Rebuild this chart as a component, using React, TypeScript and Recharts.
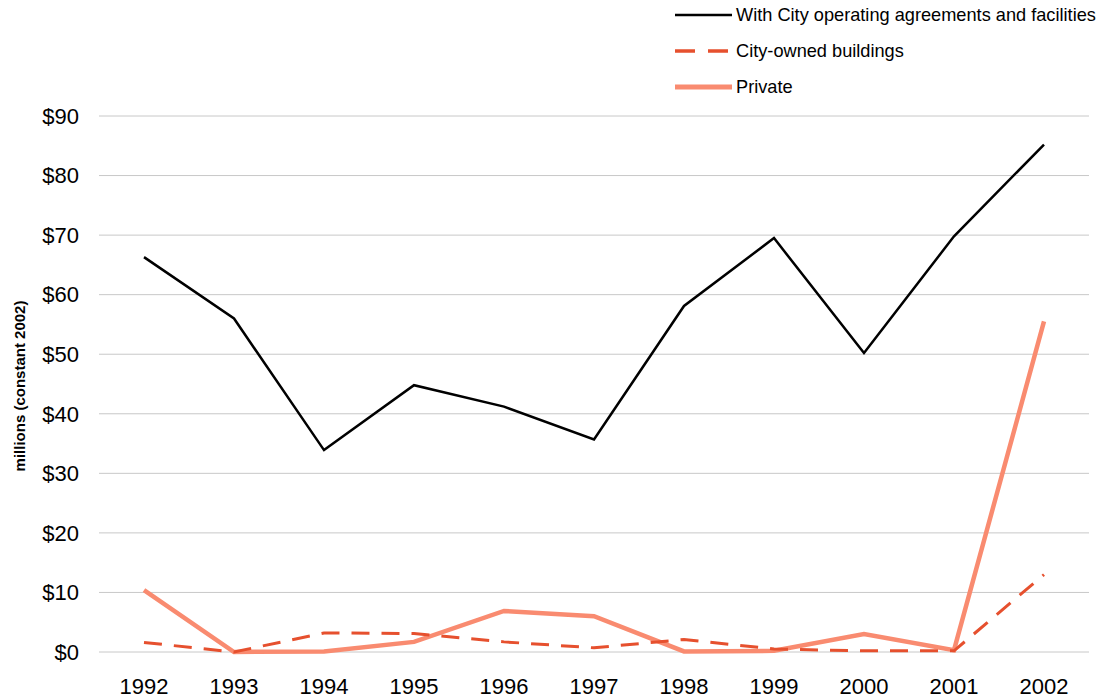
import React from 'react';
import { LineChart, Line, XAxis, YAxis, CartesianGrid, Legend } from 'recharts';

const years = ['1992', '1993', '1994', '1995', '1996', '1997', '1998', '1999', '2000', '2001', '2002'];
const withCity = [66.3, 56.0, 33.9, 44.8, 41.2, 35.7, 58.1, 69.5, 50.2, 69.8, 85.2];
const cityOwned = [1.6, 0.0, 3.2, 3.1, 1.7, 0.7, 2.1, 0.5, 0.2, 0.2, 13.0];
const privateVals = [10.4, 0.0, 0.1, 1.7, 6.9, 6.0, 0.1, 0.2, 3.0, 0.3, 55.5];
const yTicks = [0, 10, 20, 30, 40, 50, 60, 70, 80, 90];

const seriesNames = {
  withCity: 'With City operating agreements and facilities',
  cityOwned: 'City-owned buildings',
  private: 'Private',
};

const data = years.map((y, i) => ({
  year: y,
  withCity: withCity[i],
  cityOwned: cityOwned[i],
  private: privateVals[i],
}));

const FONT = 'Arial, "Liberation Sans", Helvetica, sans-serif';

const legendItems = [
  { label: seriesNames.withCity, color: '#000000', width: 2.5, dash: undefined as string | undefined },
  { label: seriesNames.cityOwned, color: '#E6502E', width: 3.5, dash: '20 13' },
  { label: seriesNames.private, color: '#F98B70', width: 5, dash: undefined as string | undefined },
];

const LegendContent = () => (
  <svg width={444} height={100} style={{ display: 'block', overflow: 'visible' }}>
    {legendItems.map((it, i) => {
      const y = 7 + i * 36;
      return (
        <g key={it.label}>
          <line x1={17} x2={74} y1={y} y2={y} stroke={it.color} strokeWidth={it.width} strokeDasharray={it.dash} />
          <text x={78} y={y} dy="0.35em" fontSize={18.2} fontFamily={FONT} fill="#000">
            {it.label}
          </text>
        </g>
      );
    })}
  </svg>
);

const YLabel = (props: any) => {
  const vb = props.viewBox || {};
  const cy = (vb.y || 0) + (vb.height || 0) / 2 + 2;
  const cx = 11;
  return (
    <text
      x={cx}
      y={cy}
      transform={`rotate(-90, ${cx}, ${cy})`}
      textAnchor="middle"
      dominantBaseline="central"
      fontSize={15}
      fontWeight="bold"
      fontFamily={FONT}
      fill="#000"
    >
      millions (constant 2002)
    </text>
  );
};

export default function App() {
  return (
    <div style={{ width: 1096, height: 692, position: 'relative', fontFamily: FONT }}>
      <LineChart width={1096} height={692} data={data} margin={{ top: 108, right: 15, bottom: 0, left: 0 }}>
        <CartesianGrid vertical={false} stroke="#C8C8C8" strokeWidth={1} />
        <XAxis
          dataKey="year"
          axisLine={false}
          tickLine={false}
          padding={{ left: 45, right: 45 }}
          height={48}
          tickMargin={20}
          tick={{ fontSize: 22, fill: '#000', fontFamily: FONT }}
          interval={0}
        />
        <YAxis
          domain={[0, 90]}
          ticks={yTicks}
          width={91}
          axisLine={false}
          tickLine={false}
          tickMargin={14}
          tickFormatter={(v: number) => `$${v}`}
          tick={{ fontSize: 22, fill: '#000', fontFamily: FONT }}
          label={{ content: YLabel }}
        />
        <Legend
          layout="vertical"
          align="center"
          verticalAlign="middle"
          wrapperStyle={{ top: 0, left: 650, width: 444, height: 100 }}
          content={LegendContent}
        />
        <Line
          type="linear"
          dataKey="private"
          name={seriesNames.private}
          stroke="#F98B70"
          strokeWidth={4.5}
          dot={false}
          activeDot={false}
          isAnimationActive={false}
        />
        <Line
          type="linear"
          dataKey="cityOwned"
          name={seriesNames.cityOwned}
          stroke="#E6502E"
          strokeWidth={3}
          strokeDasharray="18 12"
          dot={false}
          activeDot={false}
          isAnimationActive={false}
        />
        <Line
          type="linear"
          dataKey="withCity"
          name={seriesNames.withCity}
          stroke="#000000"
          strokeWidth={2.5}
          dot={false}
          activeDot={false}
          isAnimationActive={false}
        />
      </LineChart>
    </div>
  );
}
